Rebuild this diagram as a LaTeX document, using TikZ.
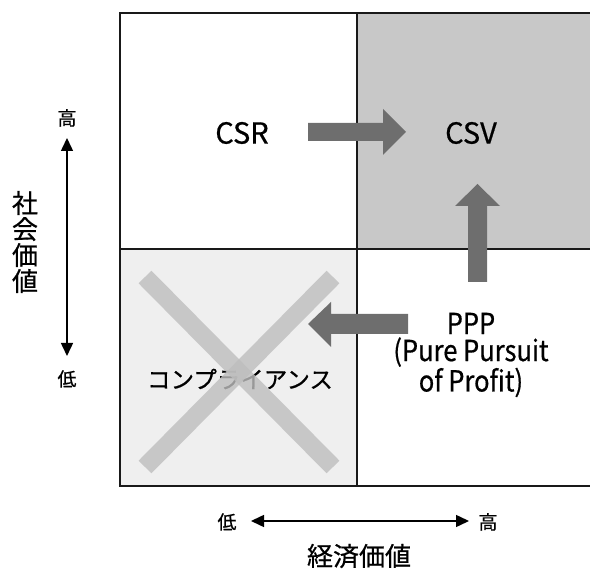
\documentclass[tikz,border=0pt]{standalone}
\usepackage{fontspec}
\setmainfont{Noto Sans CJK JP}[FakeBold=0.6]
\newfontfamily\pppfont{Noto Sans CJK JP}[FakeBold=0.6,FakeStretch=0.88]
\usetikzlibrary{arrows.meta}
\definecolor{csvgray}{HTML}{C8C8C8}
\definecolor{lowgray}{HTML}{EFEFEF}
\definecolor{fatgray}{HTML}{6E6E6E}
\definecolor{crossgray}{HTML}{BEBEBE}
\tikzset{
  gridline/.style={line width=2pt, draw=black!90},
  bigtext/.style={font=\fontsize{29}{27}\selectfont, inner sep=0pt, align=center},
  ppptext/.style={font=\pppfont\fontsize{29}{27}\selectfont, inner sep=0pt, align=center},
  jptext/.style={font=\fontsize{23.5}{26}\selectfont, inner sep=0pt},
  smalltext/.style={font=\fontsize{19}{20}\selectfont, inner sep=0pt},
  axistitle/.style={font=\fontsize{26}{26}\selectfont, inner sep=0pt, align=center},
  fatarrow/.style={fill=fatgray},
  crossline/.style={line width=18pt, draw=crossgray, opacity=0.8},
  axisarrow/.style={line width=1.5pt, {Triangle[length=13pt,width=12pt]}-{Triangle[length=13pt,width=12pt]}}
}
\begin{document}
\begin{tikzpicture}[x=1pt,y=-1pt]
\useasboundingbox (0,0) rectangle (590,569);
\clip (0,0) rectangle (590,569);
% quadrant fills
\fill[lowgray] (120,249) rectangle (357,486);
\fill[csvgray] (357,13) rectangle (600,249);
% grid
\draw[gridline] (600,13) -| (120,486) -- (600,486);
\draw[gridline] (357,13) -- (357,486);
\draw[gridline] (120,249) -- (600,249);
% labels in quadrants
\node[bigtext] (csr) at (242,133) {CSR};
\node[bigtext] (csv) at (471,133) {CSV};
\node[ppptext] (ppp) at (471,355) {PPP\\(Pure Pursuit\\of Profit)};
\node[jptext] (comp) at (240,379) {コンプライアンス};
% cross over compliance
\draw[crossline] (145,277) -- (333,467);
\draw[crossline] (333,277) -- (145,467);
% fat arrows
\fill[fatarrow] (308,123) -- (383,123) -- (383,109) -- (406,132) -- (383,155) -- (383,141) -- (308,141) -- cycle;
\fill[fatarrow] (468,282) -- (468,206) -- (455,206) -- (477.5,184) -- (500,206) -- (487,206) -- (487,282) -- cycle;
\fill[fatarrow] (408,314) -- (331,314) -- (331,302) -- (308,324) -- (331,347) -- (331,334) -- (408,334) -- cycle;
% vertical axis
\node[smalltext] (vhigh) at (67,118) {高};
\node[smalltext] (vlow) at (67,379) {低};
\coordinate (vtop) at (67,138);
\coordinate (vbot) at (67,356);
\draw[axisarrow] (vtop) -- (vbot);
\node[axistitle] (vtitle) at (25,242) {社\\会\\価\\値};
% horizontal axis
\node[smalltext] (hlow) at (227,522) {低};
\node[smalltext] (hhigh) at (488,522) {高};
\coordinate (hleft) at (251,521);
\coordinate (hright) at (469,521);
\draw[axisarrow] (hleft) -- (hright);
\node[axistitle] (htitle) at (359,556) {経済価値};
\end{tikzpicture}
\end{document}
